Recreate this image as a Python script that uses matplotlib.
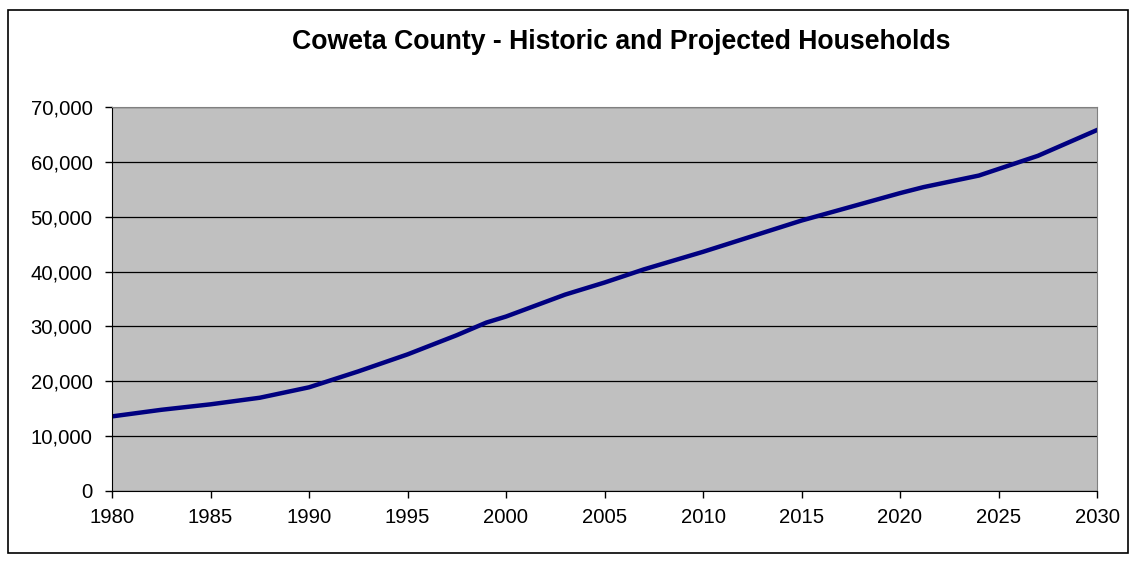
import matplotlib
matplotlib.use("Agg")
import matplotlib.pyplot as plt
from matplotlib.patches import Rectangle
from matplotlib.ticker import FuncFormatter

# households
years = [1980, 1982.5, 1985, 1987.5, 1990, 1992.5, 1995, 1997.5, 1999, 2000,
         2003, 2005, 2007, 2010, 2015, 2020, 2021.2, 2024, 2027, 2030]
households = [13600, 14800, 15800, 17000, 18900, 21800, 24900, 28400, 30700, 31800,
              35800, 38000, 40400, 43600, 49300, 54300, 55400, 57500, 61100, 65800]

x_ticks = list(range(1980, 2031, 5))
y_ticks = list(range(0, 70001, 10000))

plt.rcParams['font.family'] = ['Liberation Sans', 'DejaVu Sans']

fig = plt.figure(figsize=(11.35, 5.61), dpi=100)
ax = fig.add_axes([112/1135, 70/561, 985/1135, 384/561])
ax.set_facecolor('#c0c0c0')

ax.plot(years, households, color='#000080', linewidth=3.2, solid_joinstyle='round')

ax.set_xlim(1980, 2030)
ax.set_ylim(0, 70000)
ax.set_xticks(x_ticks)
ax.set_yticks(y_ticks)
ax.yaxis.set_major_formatter(FuncFormatter(lambda v, p: f"{int(v):,}"))
ax.grid(axis='y', color='black', linewidth=0.9)
ax.set_axisbelow(True)
ax.tick_params(labelsize=14.6, direction='out', length=5, width=1, colors='black')
ax.tick_params(axis='x', pad=7)
ax.tick_params(axis='y', pad=9)

for s in ['top', 'right']:
    ax.spines[s].set_color('#808080')
for s in ['left', 'bottom']:
    ax.spines[s].set_color('black')

fig.text(621/1135, 1 - 42/561, 'Coweta County - Historic and Projected Households',
         ha='center', va='center', fontsize=19.2, fontweight='bold')

fig.patches.append(Rectangle((8/1135, 8/561), 1120/1135, 543/561, transform=fig.transFigure,
                             fill=False, edgecolor='black', linewidth=1.2))

fig.savefig('out.png', dpi=100)
